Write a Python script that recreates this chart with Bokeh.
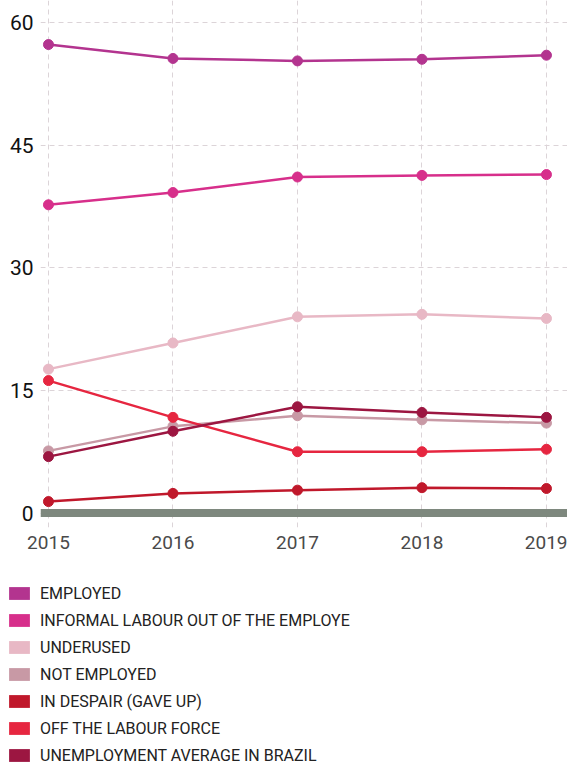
from bokeh.plotting import figure
from bokeh.models import Span, Legend, LegendItem, FixedTicker, Range1d
from bokeh.layouts import column
from bokeh.embed import file_html
from bokeh.resources import INLINE

FONT = "Roboto"

years = [2015, 2016, 2017, 2018, 2019]
employed = [57.3, 55.6, 55.3, 55.5, 56.0]
informal = [37.7, 39.2, 41.1, 41.3, 41.4]
underused = [17.6, 20.8, 24.0, 24.3, 23.8]
not_employed = [7.6, 10.6, 11.9, 11.4, 11.0]
in_despair = [1.4, 2.4, 2.8, 3.1, 3.0]
off_labour = [16.2, 11.7, 7.5, 7.5, 7.8]
unemployment_avg = [6.9, 10.0, 13.0, 12.3, 11.7]

series_names = [
    "EMPLOYED",
    "INFORMAL LABOUR OUT OF THE EMPLOYE",
    "UNDERUSED",
    "NOT EMPLOYED",
    "IN DESPAIR (GAVE UP)",
    "OFF THE LABOUR FORCE",
    "UNEMPLOYMENT AVERAGE IN BRAZIL",
]
series_values = [employed, informal, underused, not_employed, in_despair, off_labour, unemployment_avg]
series_colors = ["#b3348f", "#d72f8b", "#e8b8c5", "#c899a5", "#c0182b", "#e62640", "#9c1641"]
y_ticks = [0, 15, 30, 45, 60]

p = figure(width=567, height=565, output_backend="svg", toolbar_location=None,
           x_range=Range1d(2014.936, 2019.169), y_range=Range1d(-1.77, 62.69),
           min_border_left=40, min_border_right=0, min_border_top=0, min_border_bottom=38)
p.outline_line_color = None
p.background_fill_color = "white"

# grid
p.xgrid.ticker = FixedTicker(ticks=years)
p.ygrid.ticker = FixedTicker(ticks=y_ticks)
for g in (p.xgrid, p.ygrid):
    g.grid_line_color = "#dcd4d8"
    g.grid_line_dash = "5 4"
    g.grid_line_width = 1

# axes
p.xaxis.ticker = FixedTicker(ticks=years)
p.yaxis.ticker = FixedTicker(ticks=y_ticks)
for ax in (p.xaxis, p.yaxis):
    ax.axis_line_color = None
    ax.major_tick_line_color = None
    ax.minor_tick_line_color = None
    ax.major_tick_out = 0
    ax.major_tick_in = 0
    ax.minor_tick_out = 0
    ax.major_label_text_font = FONT
p.xaxis.major_label_text_font_size = "19px"
p.xaxis.major_label_text_color = "#4a4a4a"
p.xaxis.major_label_standoff = 8
p.yaxis.major_label_text_font_size = "21px"
p.yaxis.major_label_text_color = "#111111"
p.yaxis.major_label_standoff = 7

# baseline band
p.add_layout(Span(location=0, dimension="width", line_color="#7e887e", line_width=8, level="underlay"))

for name, vals, col in zip(series_names, series_values, series_colors):
    p.line(years, vals, line_color=col, line_width=2.5)
    p.scatter(years, vals, size=10, fill_color=col, line_color=col)

# legend figure
lf = figure(width=567, height=200, output_backend="svg", toolbar_location=None,
            x_range=Range1d(0, 1), y_range=Range1d(0, 1),
            min_border_left=0, min_border_right=0, min_border_top=0, min_border_bottom=0)
lf.frame_align = False
lf.axis.visible = False
lf.grid.visible = False
lf.outline_line_color = None

legend_items = []
for name, vals, col in zip(series_names, series_values, series_colors):
    r = lf.vbar(x=years, top=vals, width=0.5, fill_color=col, line_color=None, visible=False)
    legend_items.append(LegendItem(label=name, renderers=[r]))

legend = Legend(items=legend_items, location=(6, 0), orientation="vertical",
                glyph_width=26, glyph_height=16, label_height=20, spacing=7,
                padding=0, margin=0, label_standoff=8,
                label_text_font=FONT, label_text_font_size="16px",
                label_text_color="#222222", border_line_color=None,
                background_fill_alpha=0, inactive_fill_alpha=0)
lf.add_layout(legend)

layout = column(p, lf, spacing=0)
open("out.html", "w").write(file_html(layout, INLINE))
